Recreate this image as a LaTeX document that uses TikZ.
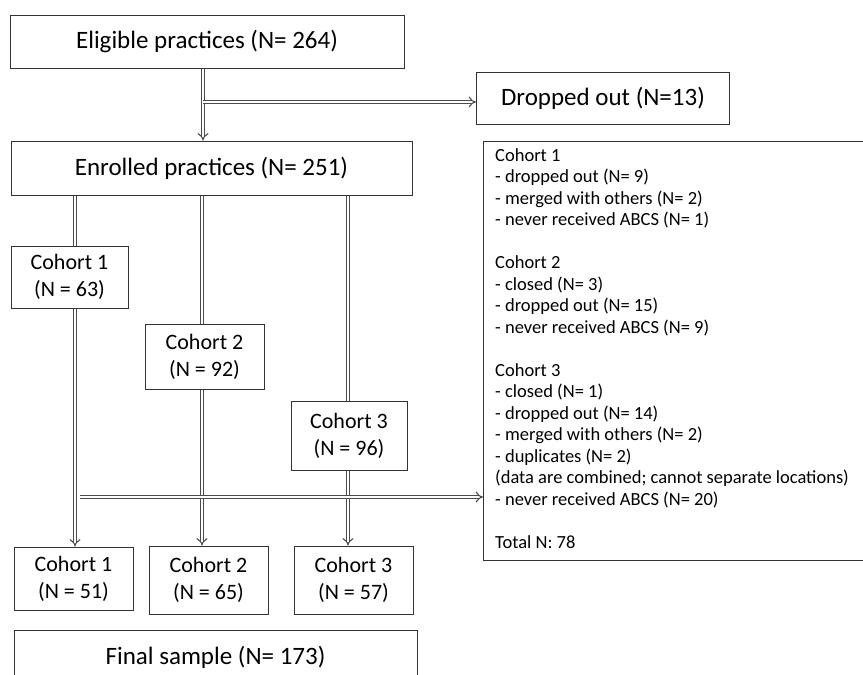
\documentclass[tikz,border=0pt]{standalone}
\usepackage{fontspec}
\setmainfont{Carlito}
\usetikzlibrary{arrows.meta}
\begin{document}
\begin{tikzpicture}[x=1pt, y=-1pt, font=\fontsize{25}{30}\selectfont]
%% coordinates are given in pixels of the original chart (y grows downwards)
%% the notes box and the final box run past the page and are cut off
\tikzstyle{box}=[draw=black!80, line width=1pt, align=center, inner sep=0pt]
\tikzstyle{cohort}=[box, font=\fontsize{22}{27}\selectfont]
\tikzstyle{line}=[draw=black!70, line width=1.1pt, double=white, double distance=2.6pt]
\tikzstyle{arc}=[line, -{Implies}]
\useasboundingbox (0,0) rectangle (863,675);
\clip (0,0) rectangle (863,675);
%% boxes %%
\node[box, minimum width=394, minimum height=53] at (207,41.5) (elig) {Eligible practices (N= 264)};
\node[box, minimum width=253, minimum height=52] at (603,98) (drop) {Dropped out (N=13)};
\node[box, minimum width=401, minimum height=54] at (211.5,168) (enr) {Enrolled practices (N= 251)};
\node[cohort, minimum width=117, minimum height=62] at (69.5,277) (c1a) {Cohort 1\\(N = 63)};
\node[cohort, minimum width=119, minimum height=65] at (204.5,356.5) (c2a) {Cohort 2\\(N = 92)};
\node[cohort, minimum width=116, minimum height=69] at (349,435.5) (c3a) {Cohort 3\\(N = 96)};
\node[cohort, minimum width=119, minimum height=63] at (73.5,578.5) (c1b) {Cohort 1\\(N = 51)};
\node[cohort, minimum width=119, minimum height=68] at (208.5,580) (c2b) {Cohort 2\\(N = 65)};
\node[cohort, minimum width=119, minimum height=68] at (353.5,580) (c3b) {Cohort 3\\(N = 57)};
\node[box, minimum width=403, minimum height=54] at (215.5,657) (final) {Final sample (N= 173)};
%% notes on the excluded practices (anchored on the baseline of the last line)
\node[box, anchor=north west, minimum width=420, minimum height=419] at (483,141) (notebox) {};
\node[anchor=base west, align=left, inner sep=0pt, font=\fontsize{18.5}{21.5}\selectfont] at (495,548.3) (notes) {Cohort 1\\
- dropped out (N= 9)\\
- merged with others (N= 2)\\
- never received ABCS (N= 1)\\[21.5pt]
Cohort 2\\
- closed (N= 3)\\
- dropped out (N= 15)\\
- never received ABCS (N= 9)\\[21.5pt]
Cohort 3\\
- closed (N= 1)\\
- dropped out (N= 14)\\
- merged with others (N= 2)\\
- duplicates (N= 2)\\
(data are combined; cannot separate locations)\\
- never received ABCS (N= 20)\\[21.5pt]
Total N: 78};
%% connectors %%
\coordinate (t1) at (203,102);
\coordinate (t2) at (80,497);
\coordinate (k1) at (75,0);
\coordinate (k2) at (202,0);
\coordinate (k3) at (348,0);
\draw[arc] (elig.south -| t1) -- (enr.north -| t1);
\draw[arc] (t1) -- (t1 -| drop.west);
\draw[line] (enr.south -| k1) -- (c1a.north -| k1);
\draw[arc] (c1a.south -| k1) -- (c1b.north -| k1);
\draw[line] (enr.south -| k2) -- (c2a.north -| k2);
\draw[arc] (c2a.south -| k2) -- (c2b.north -| k2);
\draw[line] (enr.south -| k3) -- (c3a.north -| k3);
\draw[arc] (c3a.south -| k3) -- (c3b.north -| k3);
\draw[arc] (t2) -- (t2 -| notebox.west);
\end{tikzpicture}
\end{document}
